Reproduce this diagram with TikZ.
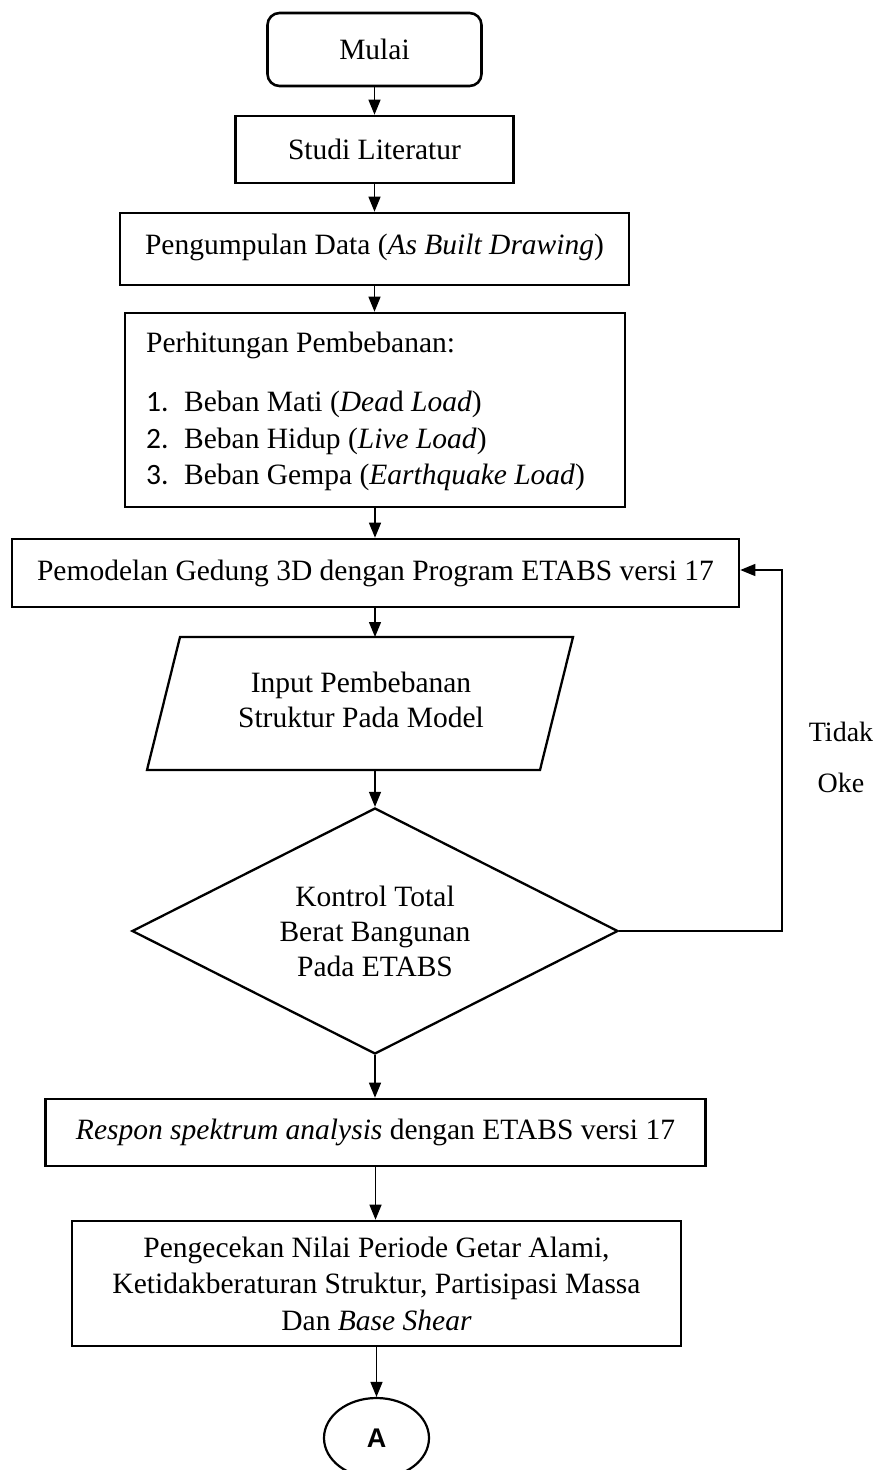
\documentclass[tikz,border=0pt]{standalone}
\usepackage{fontspec}
\setmainfont{Liberation Serif}
\newfontfamily\calibrif{Carlito}
\newfontfamily\arialf{Liberation Sans}
\usetikzlibrary{arrows.meta,shapes.geometric}
\begin{document}
\begin{tikzpicture}[x=1pt,y=-1pt,
  every node/.style={font=\fontsize{29.5}{36}\selectfont, inner sep=0pt},
  box/.style={draw, line width=2.6pt, rectangle, align=center},
  conn/.style={line width=1.3pt, -{Triangle[length=15pt,width=12pt]}},
  shapeline/.style={line width=2.3pt},
  lbl/.style={anchor=base west}]
\useasboundingbox[fill=white] (0,0) rectangle (881,1470);

% start
\node[box, rounded corners=12pt, minimum width=214pt, minimum height=73pt] (mulai) at (374.5,49.5) {Mulai};
\node[box, minimum width=278pt, minimum height=67pt] (studi) at (374.5,149.5) {Studi Literatur};
\node[box, minimum width=509pt, minimum height=72pt] (data) at (374.5,249) {Pengumpulan Data (\textit{As Built Drawing})\rule[-9pt]{0pt}{0pt}};

% loads box
\node[box, minimum width=500pt, minimum height=194pt] (hitung) at (375,410) {};
\node[lbl] (hhead) at (146,352.5) {Perhitungan Pembebanan:};
\node[lbl, font=\fontsize{29.5}{36}\calibrif] (n1) at (146,411.5) {1.};
\node[lbl] (t1) at (184,411.5) {Beban Mati (\textit{Dea}d \textit{Load})};
\node[lbl, font=\fontsize{29.5}{36}\calibrif] (n2) at (146,448.5) {2.};
\node[lbl] (t2) at (184,448.5) {Beban Hidup (\textit{Live Load})};
\node[lbl, font=\fontsize{29.5}{36}\calibrif] (n3) at (146,484.5) {3.};
\node[lbl] (t3) at (184,484.5) {Beban Gempa (\textit{Earthquake Load})};

% modelling
\node[box, minimum width=727pt, minimum height=68pt] (pemod) at (375.5,573) {Pemodelan Gedung 3D dengan Program ETABS versi 17};

% input parallelogram
\draw[shapeline] (180,637) -- (573,637) -- (540,770) -- (147,770) -- cycle;
\coordinate (inTop) at (375,637);
\coordinate (inBot) at (375,770);
\node[align=center, font=\fontsize{29.5}{35}\selectfont] (input) at (361,700) {Input Pembebanan\\Struktur Pada Model};

% decision
\node[draw, diamond, shape aspect=2, shapeline, minimum width=486pt, minimum height=246pt, align=center, font=\fontsize{29.5}{35}\selectfont] (kontrol) at (375,931) {Kontrol Total\\Berat Bangunan\\Pada ETABS};

% response spectrum
\node[box, minimum width=660pt, minimum height=67pt] (respon) at (375.5,1132.5) {\textit{Respon spektrum analysis} dengan ETABS versi 17};
\node[box, minimum width=609pt, minimum height=125pt, font=\fontsize{29.5}{36.5}\selectfont] (cek) at (376.5,1283.5) {Pengecekan Nilai Periode Getar Alami,\\Ketidakberaturan Struktur, Partisipasi Massa\\Dan \textit{Base Shear}};

% connector A
\node[draw, ellipse, line width=2.2pt, minimum width=105pt, minimum height=80pt, font=\fontsize{27}{30}\arialf\bfseries] (conA) at (376.5,1438) {A};

% labels
\node[font=\fontsize{28}{34}\selectfont] (tidak) at (841,732) {Tidak};
\node[font=\fontsize{28}{34}\selectfont] (oke) at (841,783) {Oke};

% connectors
\draw[conn] (mulai.south) -- (mulai.south |- studi.north);
\draw[conn] (studi.south) -- (studi.south |- data.north);
\draw[conn] (data.south) -- (data.south |- hitung.north);
\draw[conn] (hitung.south) -- (hitung.south |- pemod.north);
\draw[conn] (pemod.south -| inTop) -- (inTop);
\draw[conn] (inBot) -- (kontrol.north);
\draw[conn] (kontrol.south) -- (kontrol.south |- respon.north);
\draw[conn] (respon.south) -- (respon.south |- cek.north);
\draw[conn] (cek.south) -- (cek.south |- conA.north);

% feedback loop
\coordinate (fbA) at (782,931);
\coordinate (fbB) at (782,570);
\draw[conn] (kontrol.east) -- (fbA) -- (fbB) -- (pemod.east |- fbB);
\end{tikzpicture}
\end{document}
